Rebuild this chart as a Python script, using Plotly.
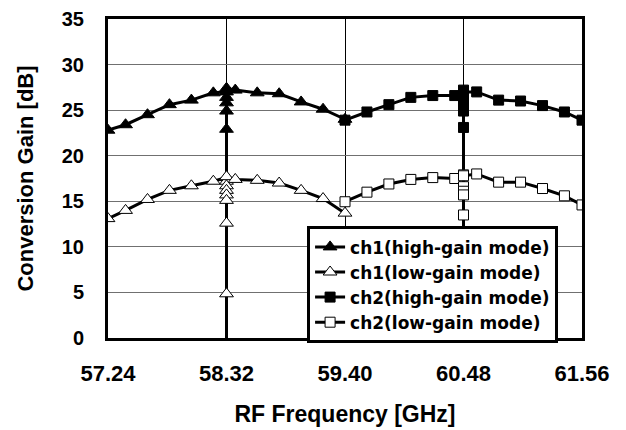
import plotly.graph_objects as go

# ---- data ----
ch1_high_x = [57.24, 57.4, 57.6, 57.8, 58.0, 58.2,
              58.32, 58.32, 58.32, 58.32, 58.32, 58.32, 58.32,
              58.4, 58.6, 58.8, 59.0, 59.2, 59.4]
ch1_high_y = [22.8, 23.4, 24.5, 25.6, 26.1, 26.9,
              27.0, 26.4, 25.8, 24.9, 22.9, -3.0, 27.4,
              27.2, 26.9, 26.8, 25.9, 25.1, 24.0]

ch1_low_x = [57.24, 57.4, 57.6, 57.8, 58.0, 58.2,
             58.32, 58.32, 58.32, 58.32, 58.32, 58.32, 58.32, 58.32, 58.32, 58.32,
             58.4, 58.6, 58.8, 59.0, 59.2, 59.4]
ch1_low_y = [13.1, 14.0, 15.2, 16.2, 16.7, 17.2,
             17.6, 17.2, 16.7, 16.2, 15.7, 15.1, 12.6, 4.85, -3.0, 17.7,
             17.4, 17.3, 17.0, 16.2, 15.3, 13.7]

ch2_high_x = [59.4, 59.6, 59.8, 60.0, 60.2, 60.4,
              60.48, 60.48, 60.48, 60.48, 60.48, 60.48, 60.48, 60.48,
              60.6, 60.8, 61.0, 61.2, 61.4, 61.56]
ch2_high_y = [23.9, 24.8, 25.6, 26.4, 26.6, 26.6,
              27.2, 26.6, 26.0, 25.4, 24.9, 23.1, -3.0, 27.0,
              27.0, 26.1, 26.0, 25.5, 24.8, 23.9]

ch2_low_x = [59.4, 59.6, 59.8, 60.0, 60.2, 60.4,
             60.48, 60.48, 60.48, 60.48, 60.48, 60.48, 60.48,
             60.6, 60.8, 61.0, 61.2, 61.4, 61.56]
ch2_low_y = [14.95, 16.0, 16.9, 17.4, 17.6, 17.5,
             17.9, 16.6, 16.1, 15.7, 13.5, -3.0, 17.8,
             18.0, 17.1, 17.1, 16.4, 15.6, 14.6]

x_ticks = [57.24, 58.32, 59.40, 60.48, 61.56]
x_tick_labels = ["57.24", "58.32", "59.40", "60.48", "61.56"]
y_ticks = [0, 5, 10, 15, 20, 25, 30, 35]

names = ["ch1(high-gain mode)", "ch1(low-gain mode)",
         "ch2(high-gain mode)", "ch2(low-gain mode)"]

AX_FONT = "Liberation Sans, Arial, sans-serif"
LEG_FONT = "DejaVu Sans"

fig = go.Figure()

series = [
    (ch1_high_x, ch1_high_y, names[0], "triangle-up", "black", 12),
    (ch1_low_x, ch1_low_y, names[1], "triangle-up", "white", 12),
    (ch2_high_x, ch2_high_y, names[2], "square", "black", 10),
    (ch2_low_x, ch2_low_y, names[3], "square", "white", 10),
]
for xs, ys, nm, sym, fill, sz in series:
    fig.add_trace(go.Scatter(
        x=xs, y=ys, name=nm, mode="lines+markers",
        line=dict(color="black", width=3, simplify=False, shape="linear"),
        marker=dict(symbol=sym, size=sz, color=fill,
                    line=dict(color="black", width=1)),
        cliponaxis=True,
    ))

# the page body adds an 8px offset, so margins are shifted by 8px
fig.update_layout(
    width=626, height=430,
    margin=dict(l=100, r=52, t=11, b=100, pad=0, autoexpand=False),
    paper_bgcolor="white", plot_bgcolor="white",
    font=dict(family=AX_FONT, color="black", size=20, weight="bold"),
    showlegend=True,
    legend=dict(
        x=0.42, y=0.35, xanchor="left", yanchor="top",
        bgcolor="white", bordercolor="black", borderwidth=3,
        font=dict(family=LEG_FONT, size=17, color="black", weight="bold"),
        itemwidth=30, tracegroupgap=0,
    ),
)

fig.update_xaxes(
    range=[57.24, 61.56], automargin=False,
    tickmode="array", tickvals=x_ticks, ticktext=x_tick_labels,
    showgrid=True, gridcolor="black", gridwidth=1,
    showline=True, linecolor="black", linewidth=3, mirror=True,
    ticks="", ticklabelstandoff=14, ticklabeloverflow="allow",
    tickfont=dict(family=AX_FONT, size=22, weight="bold"),
    title=dict(text="RF Frequency [GHz]", standoff=21,
               font=dict(family=AX_FONT, size=23, weight="bold")),
    zeroline=False,
)
fig.update_yaxes(
    range=[0, 35], automargin=False,
    tickmode="array", tickvals=y_ticks,
    showgrid=True, gridcolor="#707070", gridwidth=1,
    showline=True, linecolor="black", linewidth=3, mirror=True,
    ticks="", ticklabelstandoff=17, ticklabeloverflow="allow",
    tickfont=dict(family=AX_FONT, size=20, weight="bold"),
    title=dict(text="Conversion Gain [dB]", standoff=23,
               font=dict(family=AX_FONT, size=22, weight="bold")),
    zeroline=False,
)

fig.write_html("out.html")
